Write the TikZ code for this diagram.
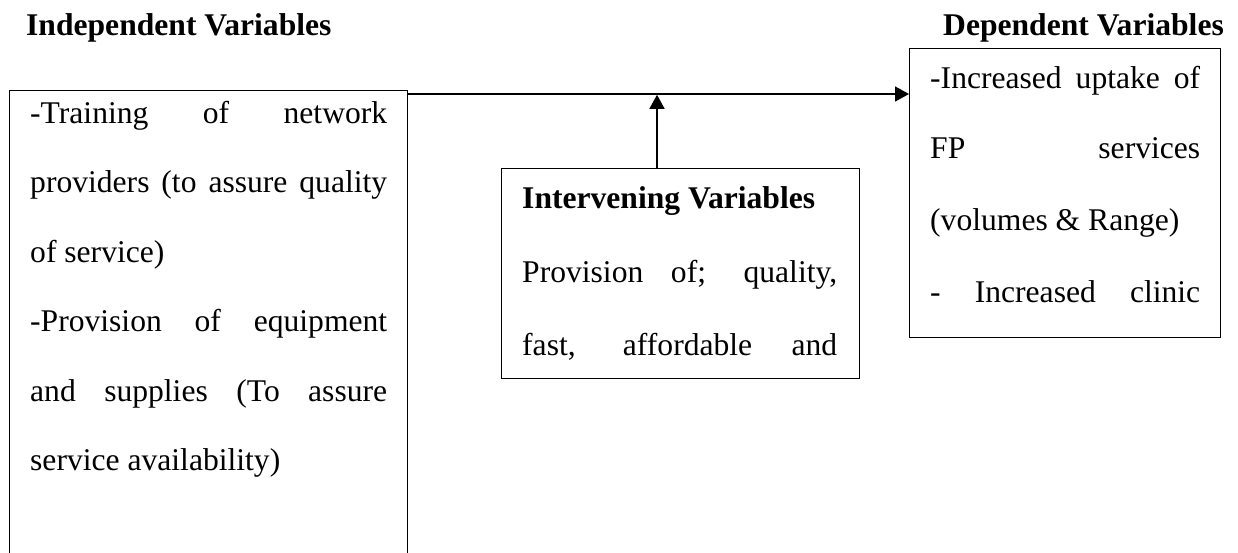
\documentclass[tikz,border=0pt]{standalone}
\usepackage{fontspec}
\setmainfont{Liberation Serif}
\usetikzlibrary{arrows.meta,calc}
\begin{document}
\begin{tikzpicture}[x=1pt,y=-1pt,
  box/.style={draw,line width=1.2pt,inner sep=0pt,anchor=north west},
  txt/.style={anchor=base west,inner sep=0pt,font=\fontsize{31.6}{38}\selectfont},
  btxt/.style={anchor=base west,inner sep=0pt,font=\fontsize{31.6}{38}\selectfont\bfseries},
  conn/.style={line width=1.6pt,-{Triangle[length=14pt,width=15pt]}}]
\useasboundingbox (0,0) rectangle (1238,552);
\clip (0,0) rectangle (1238,552);
% titles
\node[btxt] (tind) at (26,35) {Independent Variables};
\node[btxt,anchor=base east] (tdep) at (1224,35) {Dependent Variables};
% boxes
\node[box,minimum width=398pt,minimum height=480pt] (ind) at (9,90) {};
\node[box,minimum width=358pt,minimum height=210pt] (int) at (501,168) {};
\node[box,minimum width=311pt,minimum height=289pt] (dep) at (909,48) {};
% connectors
\coordinate (start) at ($(ind.north east)+(0,-4pt)$);
\draw[conn] (start) -- (start -| dep.west);
\coordinate (up) at ($(int.north west)+(156pt,0)$);
\draw[conn,shorten >=0.8pt] (up) -- (up |- start);
% independent text
\node[txt] (i1) at (30,123)   {\makebox[357pt][s]{-Training of network}};
\node[txt] (i2) at (30,192.5) {\makebox[357pt][s]{providers (to assure quality}};
\node[txt] (i3) at (30,262)   {of service)};
\node[txt] (i4) at (30,331.5) {\makebox[357pt][s]{-Provision of equipment}};
\node[txt] (i5) at (30,401)   {\makebox[357pt][s]{and supplies (To assure}};
\node[txt] (i6) at (30,470.5) {service availability)};
% intervening text
\node[btxt] (v1) at (522,208) {Intervening Variables};
\node[txt] (v2) at (522,282) {\makebox[315pt][s]{Provision of; quality,}};
\node[txt] (v3) at (522,355) {\makebox[315pt][s]{fast, affordable and}};
% dependent text
\node[txt] (d1) at (930,88)  {\makebox[270pt][s]{-Increased uptake of}};
\node[txt] (d2) at (930,158) {\makebox[270pt][s]{FP services}};
\node[txt] (d3) at (930,230) {(volumes \& Range)};
\node[txt] (d4) at (930,302) {\makebox[270pt][s]{- Increased clinic}};
\end{tikzpicture}
\end{document}
